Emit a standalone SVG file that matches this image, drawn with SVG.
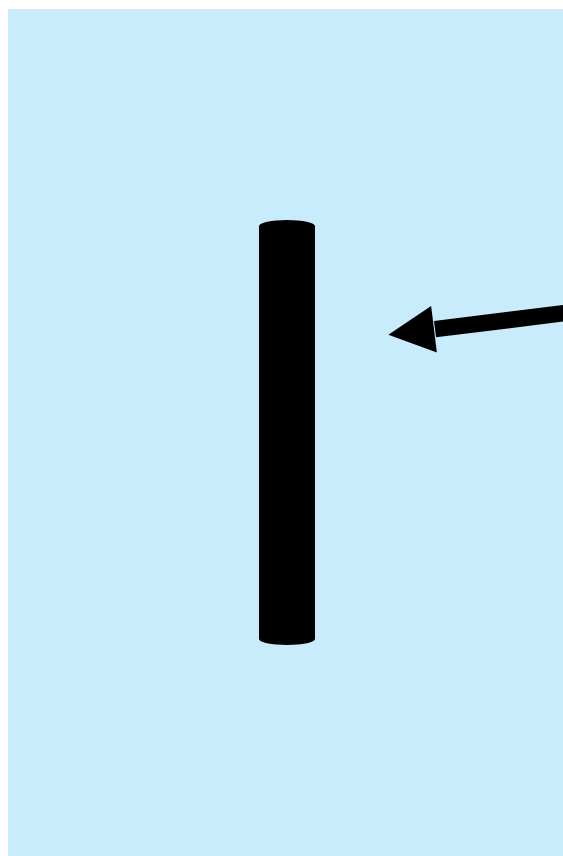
<svg xmlns="http://www.w3.org/2000/svg" width="563" height="856" viewBox="0 0 563 856">
  <style>
    .bg { fill: #c8ecfb; }
    .bar { fill: #000000; }
    .conn { stroke: #000000; fill: none; }
  </style>
  <defs>
    <marker id="head" markerUnits="userSpaceOnUse" orient="auto" refX="0" refY="0" markerWidth="60" markerHeight="60" overflow="visible">
      <path d="M1,-23.5 L47,0 L1,23.5 Z" fill="#000000"/>
    </marker>
  </defs>
  <rect class="bg" x="8" y="9" width="555" height="847"/>
  <g id="bar">
    <rect class="bar" x="259" y="220" width="56" height="425" rx="28" ry="6"/>
  </g>
  <g id="connectors">
    <line class="conn" stroke-width="16.5" x1="575" y1="311.8" x2="435" y2="329.1" marker-end="url(#head)"/>
  </g>
</svg>
